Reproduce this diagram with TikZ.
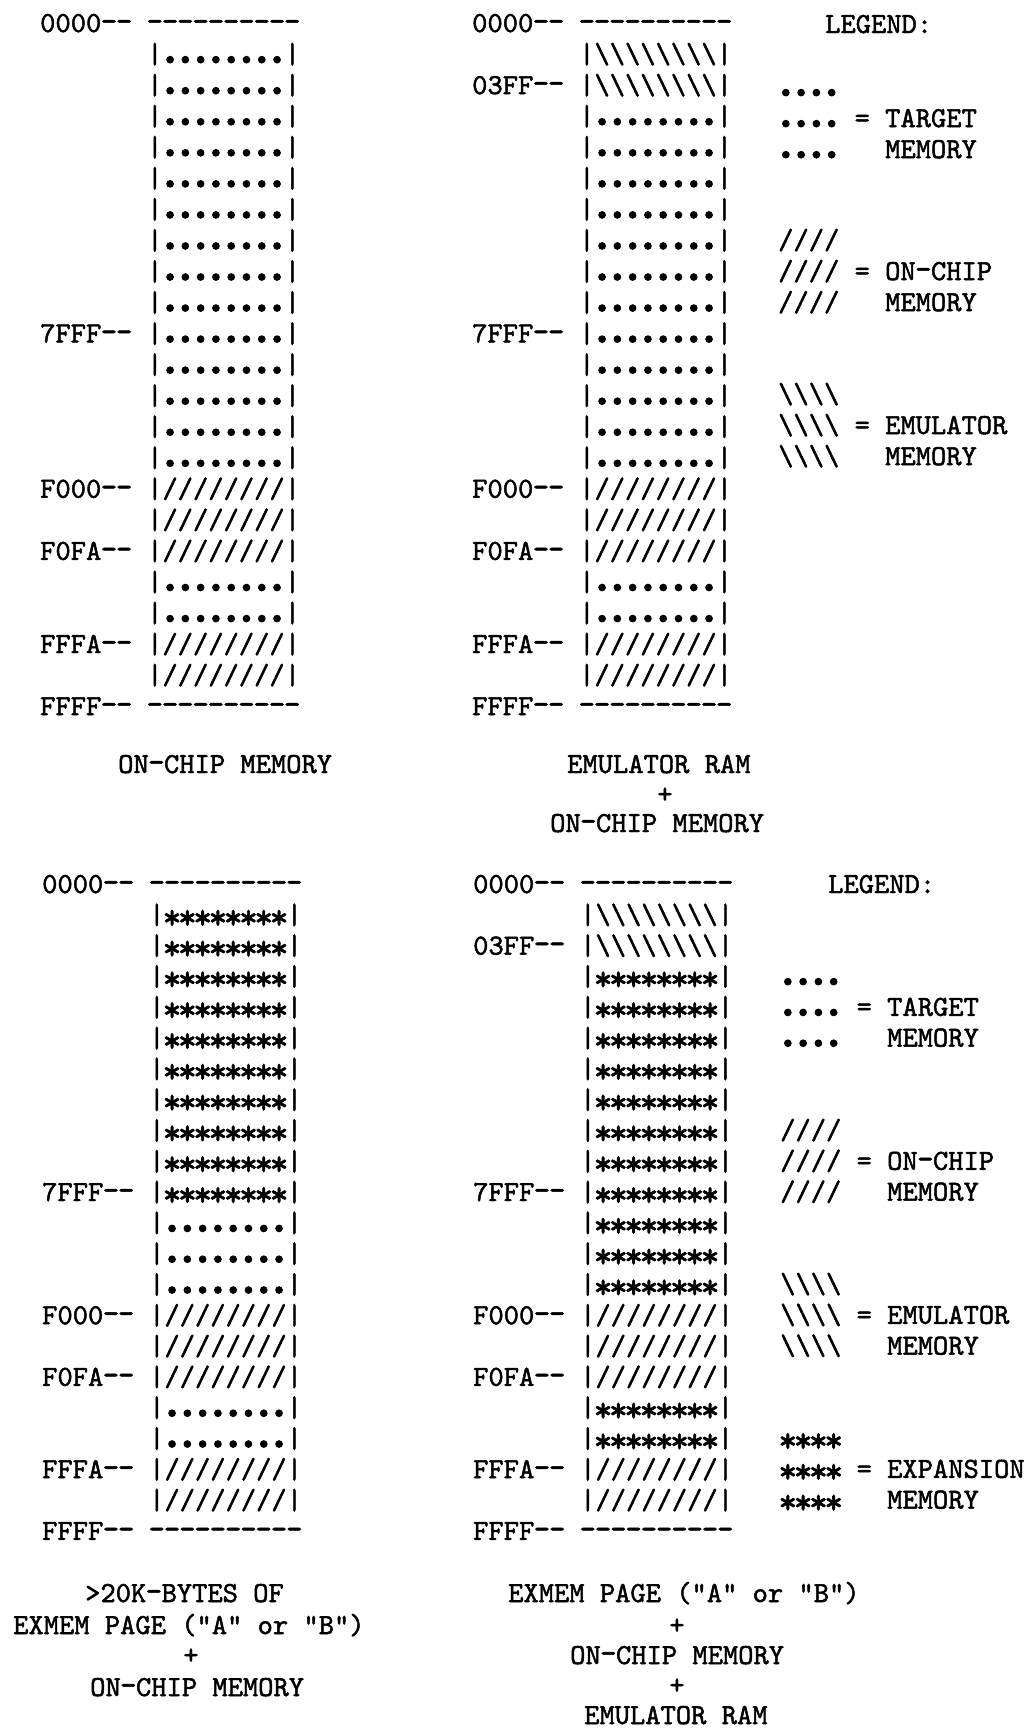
\documentclass[tikz,border=0pt]{standalone}
\usepackage{fontspec}
\usepackage{graphicx}
\setmonofont{lmmono10-regular.otf}[FakeBold=1.6]
\newcommand{\cw}{15.28}
\newcommand{\cell}[1]{|#1#1#1#1#1#1#1#1|}
\newcommand{\dotc}{\makebox[\cw pt]{\fontsize{54}{54}\selectfont .}}
\newcommand{\starc}{\makebox[\cw pt]{\raisebox{-5pt}{\fontsize{36}{36}\selectfont *}}}
\newcommand{\hy}{\makebox[\cw pt]{\scalebox{1.08}[1.2]{-}}}
\newcommand{\fillD}{\cell{\dotc}}
\newcommand{\fillS}{\cell{/}}
\newcommand{\fillB}{\cell{\textbackslash}}
\newcommand{\fillA}{\cell{\starc}}
% one memory map: id, left x, top baseline, line pitch, rows, labels, last row
\newcommand{\memmap}[7]{%
  \foreach \r/\k in {#5}
    \node[txt, name=#1r\r] at ({#2+7*\cw}, {#3+#4*\r}) {\csname fill\k\endcsname};
  \foreach \r/\l in {#6}
    \node[txt, name=#1l\r] at (#2, {#3+#4*\r}) {\l\hy\hy};
  \node[txt, name=#1top] at ({#2+7*\cw}, #3) {\hy\hy\hy\hy\hy\hy\hy\hy\hy\hy};
  \node[txt, name=#1bot] at ({#2+7*\cw}, {#3+#4*#7}) {\hy\hy\hy\hy\hy\hy\hy\hy\hy\hy};
}
% one legend entry: id, x, first baseline, pitch, symbol, word, word
\newcommand{\keyset}[7]{%
  \node[txt, name=#1a] at (#2, #3) {#5};
  \node[txt, name=#1b] at (#2, {#3+#4}) {#5};
  \node[txt, name=#1c] at (#2, {#3+2*#4}) {#5};
  \node[txt, name=#1eq] at ({#2+5*\cw}, {#3+#4}) {=};
  \node[txt, name=#1w] at ({#2+7*\cw}, {#3+#4}) {#6};
  \node[txt, name=#1m] at ({#2+7*\cw}, {#3+2*#4}) {#7};
}

\begin{document}
\begin{tikzpicture}[x=1pt, y=-1pt,
  txt/.style={font=\ttfamily\fontsize{29.1}{30}\selectfont, inner sep=0pt, anchor=base west}]
\useasboundingbox (0,0) rectangle (1032,1729);

% top left
\memmap{ma}{40}{32}{31.05}{1/D,2/D,3/D,4/D,5/D,6/D,7/D,8/D,9/D,10/D,11/D,12/D,13/D,14/D,15/S,16/S,17/S,18/D,19/D,20/S,21/S}{0/0000,10/7FFF,15/F000,17/F0FA,20/FFFA,22/FFFF}{22}
\node[txt, name=capa] at (118,773) {ON\hy CHIP MEMORY};

% top right
\memmap{mb}{472}{32}{31.05}{1/B,2/B,3/D,4/D,5/D,6/D,7/D,8/D,9/D,10/D,11/D,12/D,13/D,14/D,15/S,16/S,17/S,18/D,19/D,20/S,21/S}{0/0000,2/03FF,10/7FFF,15/F000,17/F0FA,20/FFFA,22/FFFF}{22}
\node[txt, name=capb1] at (567,773) {EMULATOR RAM};
\node[txt, anchor=base, name=capb2] at (665,803) {+};
\node[txt, name=capb3] at (550,832) {ON\hy CHIP MEMORY};

\node[txt, name=leg1] at (825,33) {LEGEND:};
\keyset{ka}{778}{96}{31.05}{\dotc\dotc\dotc\dotc}{TARGET}{MEMORY}
\keyset{kb}{778}{249}{31.05}{////}{ON\hy CHIP}{MEMORY}
\keyset{kc}{778}{403}{31.05}{\textbackslash\textbackslash\textbackslash\textbackslash}{EMULATOR}{MEMORY}

% bottom left
\memmap{mc}{42}{893}{30.8}{1/A,2/A,3/A,4/A,5/A,6/A,7/A,8/A,9/A,10/A,11/D,12/D,13/D,14/S,15/S,16/S,17/D,18/D,19/S,20/S}{0/0000,10/7FFF,14/F000,16/F0FA,19/FFFA,21/FFFF}{21}
\node[txt, name=capc1] at (85,1602) {>20K\hy BYTES OF};
\node[txt, name=capc2] at (13,1634) {EXMEM PAGE ("A" or "B")};
\node[txt, anchor=base, name=capc3] at (191,1664) {+};
\node[txt, name=capc4] at (90,1696) {ON\hy CHIP MEMORY};

% bottom right
\memmap{md}{473}{893}{30.8}{1/B,2/B,3/A,4/A,5/A,6/A,7/A,8/A,9/A,10/A,11/A,12/A,13/A,14/S,15/S,16/S,17/A,18/A,19/S,20/S}{0/0000,2/03FF,10/7FFF,14/F000,16/F0FA,19/FFFA,21/FFFF}{21}
\node[txt, name=capd1] at (508,1602) {EXMEM PAGE ("A" or "B")};
\node[txt, anchor=base, name=capd2] at (677,1634) {+};
\node[txt, name=capd3] at (570,1664) {ON\hy CHIP MEMORY};
\node[txt, anchor=base, name=capd4] at (677,1694) {+};
\node[txt, name=capd5] at (584,1724) {EMULATOR RAM};

\node[txt, name=leg2] at (828,893) {LEGEND:};
\keyset{kd}{780}{985}{30.8}{\dotc\dotc\dotc\dotc}{TARGET}{MEMORY}
\keyset{ke}{780}{1139}{30.8}{////}{ON\hy CHIP}{MEMORY}
\keyset{kf}{780}{1293}{30.8}{\textbackslash\textbackslash\textbackslash\textbackslash}{EMULATOR}{MEMORY}
\keyset{kg}{780}{1447}{30.8}{\starc\starc\starc\starc}{EXPANSION}{MEMORY}
\end{tikzpicture}
\end{document}
